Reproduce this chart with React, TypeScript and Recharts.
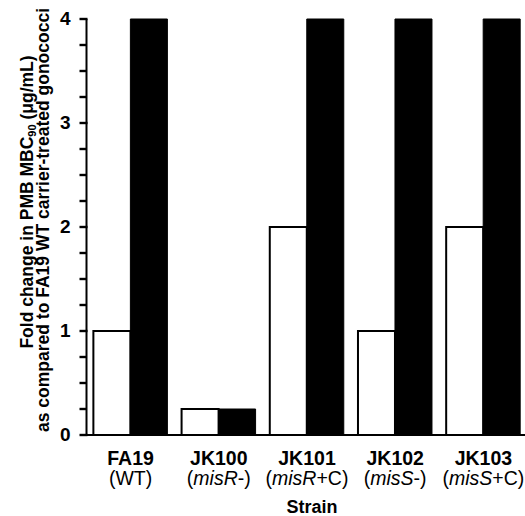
import React from "react";
import { BarChart, Bar, XAxis, YAxis, ReferenceLine } from "recharts";

const strains = ["FA19", "JK100", "JK101", "JK102", "JK103"];
const genotypeItalic = ["", "misR", "misR", "misS", "misS"];
const genotypeSuffix = ["WT", "-", "+C", "-", "+C"];
const carrierValues = [1, 0.25, 2, 1, 2];
const treatedValues = [4, 0.25, 4, 4, 4];
const yTicks = [0, 1, 2, 3, 4];
const yMinorTicks = [0.25, 0.5, 0.75, 1.25, 1.5, 1.75, 2.25, 2.5, 2.75, 3.25, 3.5, 3.75];
const yTickLabels = ["0", "1", "2", "3", "4"];
const xTitle = "Strain";
const yTitleLine1a = "Fold change in PMB MBC";
const yTitleSub = "90";
const yTitleLine1b = " (μg/mL)";
const yTitleLine2 = "as compared to FA19 WT carrier-treated gonococci";

const FONT = "'Liberation Sans', Arial, sans-serif";

const data = strains.map((s, i) => ({
  strain: s,
  carrier: carrierValues[i],
  treated: treatedValues[i],
}));

const YTick = (props: any) => {
  const { x, y, payload } = props;
  const v = payload.value;
  return (
    <g>
      <rect x={x} y={y - 1.2} width={8} height={2.4} fill="#000" />
      <text
        x={x - 9}
        y={y + 5.5}
        textAnchor="end"
        fontFamily={FONT}
        fontWeight="bold"
        fontSize={19}
        fill="#000"
      >
        {yTickLabels[Math.round(v)]}
      </text>
    </g>
  );
};

const MinorTick = (props: any) => {
  const { x1, y1 } = props;
  return <rect x={x1 - 7} y={y1 - 1.2} width={7} height={2.4} fill="#000" />;
};

const XTick = (props: any) => {
  const { x, payload } = props;
  const i = strains.indexOf(payload.value);
  return (
    <g>
      <text x={x} y={465} textAnchor="middle" fontFamily={FONT} fontWeight="bold" fontSize={19.5} fill="#000">
        {strains[i]}
      </text>
      <text x={x} y={485} textAnchor="middle" fontFamily={FONT} fontSize={19.5} fill="#000">
        (
        {genotypeItalic[i] ? <tspan fontStyle="italic">{genotypeItalic[i]}</tspan> : null}
        {genotypeSuffix[i]})
      </text>
    </g>
  );
};

const Titles = () => (
  <g>
    <text x={312} y={513} textAnchor="middle" fontFamily={FONT} fontWeight="bold" fontSize={18} fill="#000">
      {xTitle}
    </text>
    <text
      transform="translate(33.3, 202) rotate(-90)"
      x={0}
      y={0}
      textAnchor="middle"
      fontFamily={FONT}
      fontWeight="bold"
      fontSize={17.5}
      fill="#000"
    >
      {yTitleLine1a}
      <tspan fontSize={11} dy={3}>{yTitleSub}</tspan>
      <tspan dy={-3}>{yTitleLine1b}</tspan>
    </text>
    <text
      transform="translate(49.3, 220) rotate(-90)"
      x={0}
      y={0}
      textAnchor="middle"
      fontFamily={FONT}
      fontWeight="bold"
      fontSize={17.5}
      fill="#000"
    >
      {yTitleLine2}
    </text>
  </g>
);

export default function App() {
  return (
    <div style={{ position: "absolute", left: 0, top: 0, width: 525, height: 516, overflow: "hidden", background: "#fff" }}>
      <BarChart
        width={535}
        height={516}
        data={data}
        margin={{ top: 19, right: 7.5, left: 0, bottom: 0 }}
        barGap={0}
        barCategoryGap="7.8%"
      >
        <XAxis
          dataKey="strain"
          height={81}
          axisLine={{ stroke: "#000", strokeWidth: 2 }}
          tickLine={false}
          tick={<XTick />}
          interval={0}
          label={{ content: <Titles /> }}
        />
        <YAxis
          width={86.5}
          domain={[0, 4]}
          ticks={yTicks}
          interval={0}
          tickSize={7}
          tickMargin={0}
          axisLine={{ stroke: "#000", strokeWidth: 2 }}
          tickLine={false}
          tick={<YTick />}
        />
        {yMinorTicks.map((v) => (
          <ReferenceLine key={v} y={v} ifOverflow="visible" stroke="#000" shape={<MinorTick />} />
        ))}
        <Bar dataKey="carrier" fill="#fff" stroke="#000" strokeWidth={2} isAnimationActive={false} />
        <Bar dataKey="treated" fill="#000" stroke="#000" strokeWidth={1} isAnimationActive={false} />
      </BarChart>
    </div>
  );
}
